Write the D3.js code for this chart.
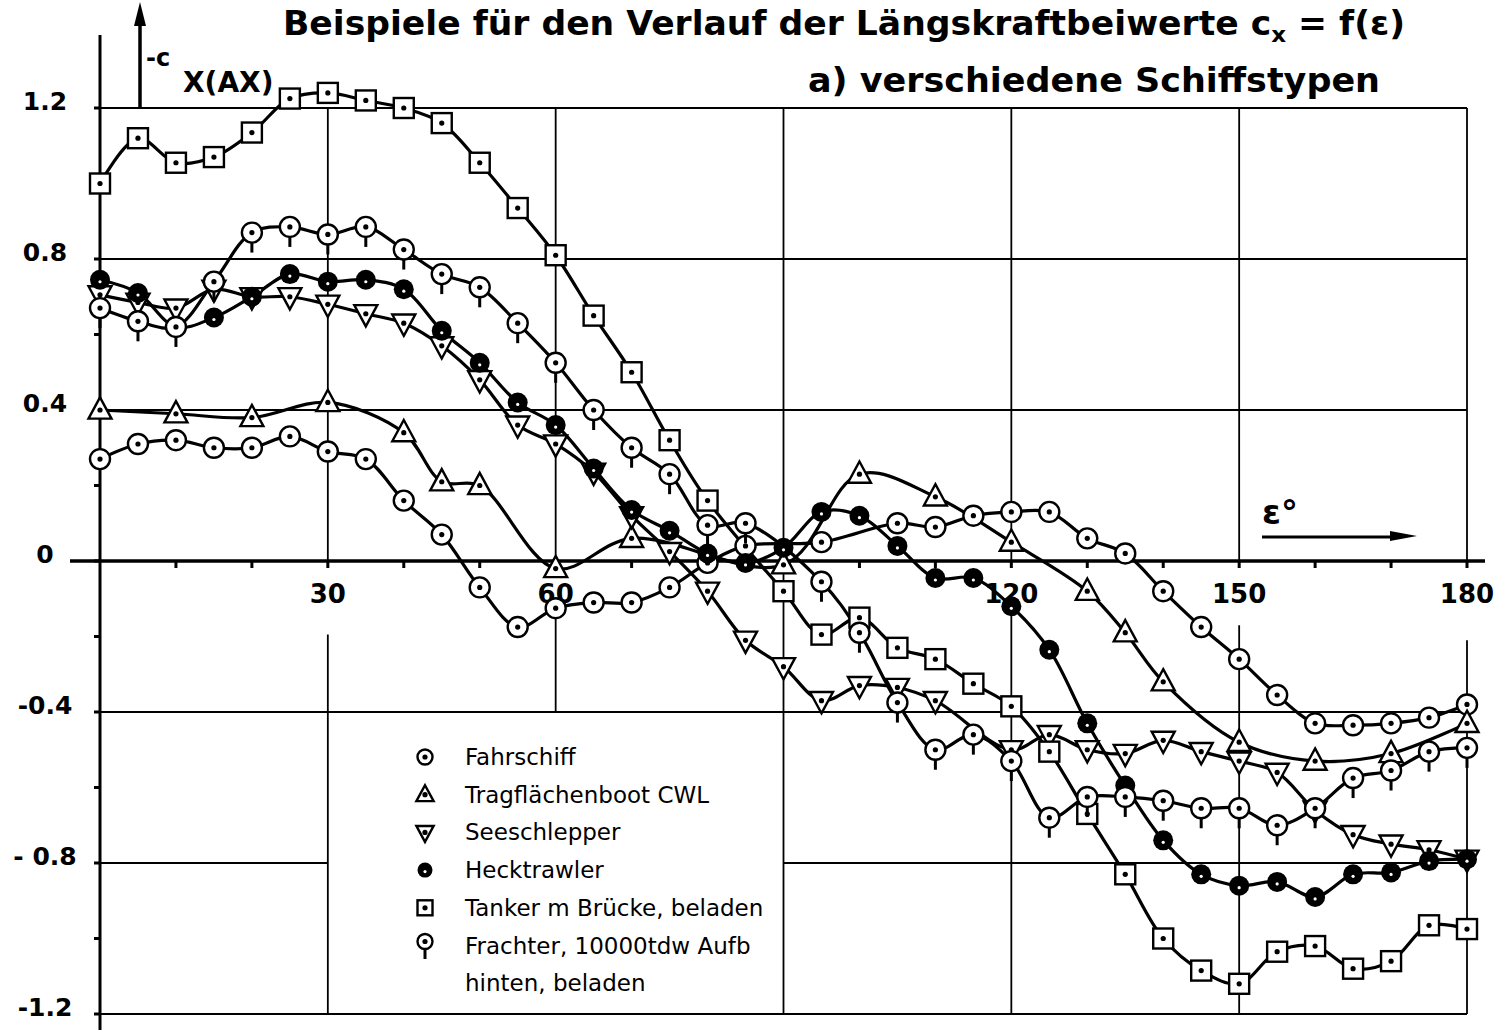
<!DOCTYPE html>
<html>
<head>
<meta charset="utf-8">
<script src="https://cdn.jsdelivr.net/npm/d3@7"></script>
<style>
  body { margin: 0; background: #fff; }
  svg text { font-family: "DejaVu Sans", sans-serif; fill: #000; }
</style>
</head>
<body>
<svg id="chart" width="1497" height="1036"></svg>
<script>
const width = 1497;
const height = 1036;

// Messwerte [Winkel, -cx] je Schiffstyp
const fahrschiff = [[0,0.27],[5,0.31],[10,0.32],[15,0.30],[20,0.30],[25,0.33],[30,0.29],[35,0.27],[40,0.16],[45,0.07],[50,-0.07],[55,-0.175],[60,-0.125],[65,-0.11],[70,-0.11],[75,-0.07],[80,-0.005],[85,0.04],[95,0.05],[105,0.10],[110,0.09],[115,0.12],[120,0.13],[125,0.13],[130,0.06],[135,0.02],[140,-0.08],[145,-0.175],[150,-0.26],[155,-0.355],[160,-0.43],[165,-0.435],[170,-0.43],[175,-0.415],[180,-0.38]];
const tragflaechenboot = [[0,0.40],[10,0.39],[20,0.38],[30,0.42],[40,0.34],[45,0.21],[50,0.20],[60,-0.02],[70,0.06],[90,-0.01],[100,0.23],[110,0.17],[120,0.05],[130,-0.08],[135,-0.19],[140,-0.32],[150,-0.48],[160,-0.53],[170,-0.51],[180,-0.43]];
const seeschlepper = [[0,0.705],[5,0.685],[10,0.67],[15,0.72],[20,0.70],[25,0.70],[30,0.68],[35,0.655],[40,0.63],[45,0.57],[50,0.48],[55,0.36],[60,0.31],[65,0.235],[70,0.12],[75,0.025],[80,-0.08],[85,-0.21],[90,-0.28],[95,-0.37],[100,-0.33],[105,-0.335],[110,-0.37],[120,-0.50],[125,-0.46],[130,-0.50],[135,-0.51],[140,-0.475],[145,-0.505],[150,-0.53],[155,-0.56],[160,-0.66],[165,-0.725],[170,-0.75],[175,-0.765],[180,-0.79]];
const hecktrawler = [[0,0.745],[5,0.71],[10,0.62],[15,0.645],[20,0.70],[25,0.76],[30,0.74],[35,0.745],[40,0.72],[45,0.61],[50,0.525],[55,0.42],[60,0.36],[65,0.245],[70,0.135],[75,0.08],[80,0.02],[85,-0.005],[90,0.035],[95,0.13],[100,0.12],[105,0.04],[110,-0.045],[115,-0.045],[120,-0.12],[125,-0.235],[130,-0.43],[135,-0.595],[140,-0.74],[145,-0.83],[150,-0.86],[155,-0.85],[160,-0.89],[165,-0.83],[170,-0.825],[175,-0.795],[180,-0.79]];
const tanker = [[0,1.00],[5,1.12],[10,1.055],[15,1.07],[20,1.135],[25,1.225],[30,1.24],[35,1.22],[40,1.20],[45,1.16],[50,1.055],[55,0.935],[60,0.81],[65,0.65],[70,0.50],[75,0.32],[80,0.16],[90,-0.08],[95,-0.195],[100,-0.15],[105,-0.23],[110,-0.26],[115,-0.325],[120,-0.385],[125,-0.505],[130,-0.67],[135,-0.83],[140,-1.00],[145,-1.085],[150,-1.12],[155,-1.035],[160,-1.02],[165,-1.08],[170,-1.06],[175,-0.965],[180,-0.975]];
const frachter = [[0,0.67],[5,0.635],[10,0.62],[15,0.74],[20,0.87],[25,0.885],[30,0.865],[35,0.885],[40,0.825],[45,0.76],[50,0.725],[55,0.63],[60,0.525],[65,0.40],[70,0.30],[75,0.23],[80,0.095],[85,0.10],[95,-0.055],[100,-0.19],[105,-0.375],[110,-0.50],[115,-0.46],[120,-0.53],[125,-0.68],[130,-0.625],[135,-0.625],[140,-0.635],[145,-0.655],[150,-0.655],[155,-0.70],[160,-0.655],[165,-0.575],[170,-0.555],[175,-0.505],[180,-0.495]];

const xTicks = [30, 60, 120, 150, 180];
const yTicks = [1.2, 0.8, 0.4, 0, -0.4, -0.8, -1.2];
const yTickLabels = ["1.2", "0.8", "0.4", "0", "-0.4", "- 0.8", "-1.2"];

const series = [
  { name: "Fahrschiff", data: fahrschiff, sym: "circle" },
  { name: "Tragflächenboot  CWL", data: tragflaechenboot, sym: "up" },
  { name: "Seeschlepper", data: seeschlepper, sym: "down" },
  { name: "Hecktrawler", data: hecktrawler, sym: "filled" },
  { name: "Tanker m Brücke, beladen", data: tanker, sym: "square" },
  { name: "Frachter, 10000tdw  Aufb", data: frachter, sym: "pin" }
];

const svg = d3.select("#chart");

const x = d3.scaleLinear().domain([0, 180]).range([100, 1467]);
const y = d3.scaleLinear().domain([-1.2, 1.2]).range([1014, 108]);

// Gitter
const grid = svg.append("g").attr("stroke", "#000").attr("stroke-width", 1.8);
[1.2, 0.8, 0.4, -0.4, -1.2].forEach(v => {
  grid.append("line").attr("x1", x(0)).attr("x2", x(180)).attr("y1", y(v)).attr("y2", y(v));
});
grid.append("line").attr("x1", x(0)).attr("x2", x(30)).attr("y1", y(-0.8)).attr("y2", y(-0.8));
grid.append("line").attr("x1", x(90)).attr("x2", x(180)).attr("y1", y(-0.8)).attr("y2", y(-0.8));
[[30, 1.2, 0], [30, -0.195, -1.2], [60, 1.2, 0], [60, -0.12, -0.4], [90, 1.2, -1.2],
 [120, 1.2, 0], [120, -0.1, -1.2], [150, 1.2, 0], [150, -0.17, -1.2], [180, 1.2, 0], [180, -0.21, -1.2]]
  .forEach(([a, v1, v2]) => {
    grid.append("line").attr("x1", x(a)).attr("x2", x(a)).attr("y1", y(v1)).attr("y2", y(v2));
  });

// Achsen
svg.append("line").attr("x1", x(0)).attr("x2", x(0)).attr("y1", 35).attr("y2", 1030)
  .attr("stroke", "#000").attr("stroke-width", 3);
svg.append("line").attr("x1", 70).attr("x2", 1485).attr("y1", y(0)).attr("y2", y(0))
  .attr("stroke", "#000").attr("stroke-width", 3.5);

svg.append("g").selectAll("line").data(d3.range(10, 181, 10)).join("line")
  .attr("x1", d => x(d)).attr("x2", d => x(d))
  .attr("y1", y(0)).attr("y2", y(0) + 7)
  .attr("stroke", "#000").attr("stroke-width", 3);
svg.append("g").selectAll("line").data(d3.range(-12, 13, 2).map(d => d / 10)).join("line")
  .attr("x1", x(0) - 6).attr("x2", x(0))
  .attr("y1", d => y(d)).attr("y2", d => y(d))
  .attr("stroke", "#000").attr("stroke-width", 3);

svg.append("g").selectAll("text").data(xTicks).join("text")
  .attr("x", d => x(d)).attr("y", y(0) + 42)
  .attr("text-anchor", "middle")
  .style("font-size", "26px").style("font-weight", "bold")
  .text(d => d);

svg.append("g").selectAll("text").data(yTicks).join("text")
  .attr("x", 45).attr("y", d => y(d) + 2)
  .attr("text-anchor", "middle")
  .style("font-size", "25px").style("font-weight", "bold")
  .text((d, i) => yTickLabels[i]);

// Pfeil der Ordinate
svg.append("line").attr("x1", 140).attr("x2", 140).attr("y1", y(1.2)).attr("y2", 22)
  .attr("stroke", "#000").attr("stroke-width", 3.5);
svg.append("path").attr("d", "M134,26 L140,2 L146,26 Z").attr("fill", "#000");
svg.append("text").attr("x", 146).attr("y", 66).style("font-size", "24px").style("font-weight", "bold").text("-c");
svg.append("text").attr("x", 183).attr("y", 92).style("font-size", "28px").style("font-weight", "bold").text("X(AX)");

// Pfeil der Abszisse
svg.append("text").attr("x", 1262).attr("y", 524).style("font-size", "34px").style("font-weight", "bold").text("ε°");
svg.append("line").attr("x1", 1262).attr("x2", 1400).attr("y1", 537).attr("y2", 537)
  .attr("stroke", "#000").attr("stroke-width", 3);
svg.append("path").attr("d", "M1390,531 L1417,536 L1390,541 Z").attr("fill", "#000");

// Titel
const title = svg.append("text").attr("x", 283).attr("y", 35)
  .attr("textLength", 1122).attr("lengthAdjust", "spacingAndGlyphs")
  .style("font-size", "33px").style("font-weight", "bold");
title.append("tspan").text("Beispiele für den Verlauf der Längskraftbeiwerte c");
title.append("tspan").attr("dy", 7).style("font-size", "22px").text("x");
title.append("tspan").attr("dy", -7).text(" = f(ε)");
svg.append("text").attr("x", 808).attr("y", 92)
  .attr("textLength", 572).attr("lengthAdjust", "spacingAndGlyphs")
  .style("font-size", "33px").style("font-weight", "bold").text("a) verschiedene Schiffstypen");

// Symbole
function drawSymbol(g, sym, s) {
  const sw = 2.4;
  if (sym === "circle" || sym === "pin") {
    if (sym === "pin") {
      g.append("line").attr("x1", 0).attr("x2", 0).attr("y1", s).attr("y2", s + 10)
        .attr("stroke", "#000").attr("stroke-width", sw + 0.6);
    }
    g.append("circle").attr("r", s).attr("fill", "#fff").attr("stroke", "#000").attr("stroke-width", sw);
  } else if (sym === "filled") {
    g.append("circle").attr("r", s).attr("fill", "#000");
    g.append("circle").attr("r", 1.6).attr("cy", s * 0.2).attr("fill", "#fff");
    return;
  } else if (sym === "square") {
    g.append("rect").attr("x", -s).attr("y", -s).attr("width", 2 * s).attr("height", 2 * s)
      .attr("fill", "#fff").attr("stroke", "#000").attr("stroke-width", sw);
  } else if (sym === "up") {
    const h = s * 1.15;
    g.append("path").attr("d", `M0,${-h * 1.1} L${h},${h * 0.75} L${-h},${h * 0.75} Z`)
      .attr("fill", "#fff").attr("stroke", "#000").attr("stroke-width", sw);
  } else if (sym === "down") {
    const h = s * 1.15;
    g.append("path").attr("d", `M0,${h * 1.1} L${h},${-h * 0.75} L${-h},${-h * 0.75} Z`)
      .attr("fill", "#fff").attr("stroke", "#000").attr("stroke-width", sw);
  }
  g.append("circle").attr("r", 2.6).attr("fill", "#000");
}

const line = d3.line()
  .x(d => x(d[0]))
  .y(d => y(d[1]))
  .curve(d3.curveCatmullRom.alpha(0.5));

const plot = svg.append("g");
series.forEach(s => {
  plot.append("path")
    .attr("d", line(s.data))
    .attr("fill", "none")
    .attr("stroke", "#000")
    .attr("stroke-width", 3.2);
});
series.forEach(s => {
  plot.append("g").selectAll("g").data(s.data).join("g")
    .attr("transform", d => `translate(${x(d[0])},${y(d[1])})`)
    .each(function () { drawSymbol(d3.select(this), s.sym, 10); });
});

// Legende
const legend = svg.append("g").attr("transform", "translate(425,757)");
series.forEach((s, i) => {
  const row = legend.append("g").attr("transform", `translate(0,${i * 37.7})`);
  drawSymbol(row.append("g").attr("transform", s.sym === "pin" ? "translate(0,-4)" : null), s.sym, 7.5);
  row.append("text").attr("x", 40).attr("y", 8).style("font-size", "23px").text(s.name);
});
legend.append("text").attr("x", 40).attr("y", 6 * 37.7 + 8).style("font-size", "23px").text("hinten, beladen");
</script>
</body>
</html>
